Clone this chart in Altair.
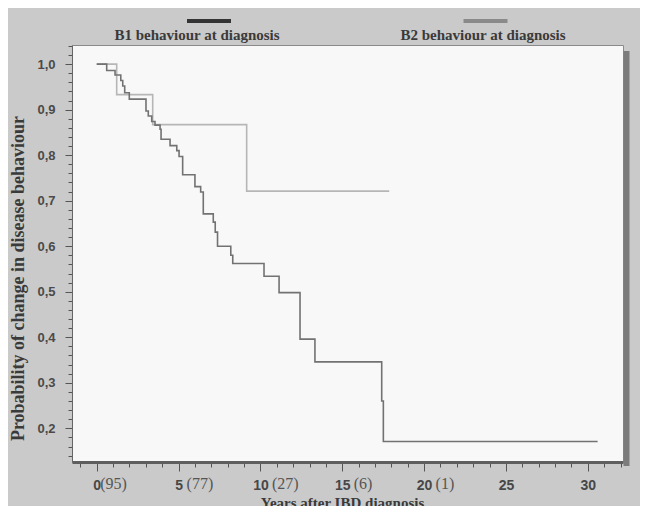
import altair as alt
import pandas as pd

# ---- data ----
series_names = ["B1 behaviour at diagnosis", "B2 behaviour at diagnosis"]

b1_years = [0, 0.61, 1.12, 1.47, 1.59, 1.71, 1.99, 3.01, 3.15, 3.36, 3.56, 3.87, 3.93,
            4.48, 4.89, 5.03, 5.25, 6.0, 6.35, 6.51, 7.12, 7.24, 7.38, 8.19, 8.31,
            10.22, 11.14, 12.42, 13.33, 17.41, 17.51, 30.6]
b1_prob = [1.0, 0.986, 0.976, 0.964, 0.952, 0.937, 0.923, 0.897, 0.886, 0.874, 0.866, 0.857, 0.835,
           0.821, 0.81, 0.797, 0.757, 0.731, 0.719, 0.671, 0.653, 0.631, 0.6, 0.58, 0.562,
           0.534, 0.498, 0.396, 0.346, 0.26, 0.171, 0.171]

b2_years = [0, 1.22, 3.42, 9.16, 17.87]
b2_prob = [1.0, 0.933, 0.867, 0.721, 0.721]

risk_years = [0, 5, 10, 15, 20]
risk_counts = ["(95)", "(77)", "(27)", "(6)", "(1)"]

x_tick_values = list(range(-1, 33))
y_tick_values = [round(0.14 + 0.02 * i, 2) for i in range(46)]

# ---- styles / layout ----
line_colors = ["#727272", "#b6b6b6"]
swatch_colors = ["#343434", "#8a8a8a"]
legend_text_centers = [125, 411]
legend_swatch_centers = [137, 413.5]
W, H = 551, 417

rows = []
for name, xs, ys in [(series_names[1], b2_years, b2_prob), (series_names[0], b1_years, b1_prob)]:
    for x, y in zip(xs, ys):
        rows.append({"series": name, "year": x, "prob": y})
curves = pd.DataFrame(rows)

xscale = alt.Scale(domain=[-1.51, 32.15], nice=False, zero=False)
yscale = alt.Scale(domain=[0.126, 1.042], nice=False, zero=False)

x_axis = alt.Axis(
    values=x_tick_values,
    labelExpr="datum.value % 5 === 0 && datum.value >= 0 && datum.value <= 30 ? datum.label : ''",
    labelFont="Liberation Sans", labelFontWeight="bold", labelFontSize=14, labelColor="#474747",
    labelOverlap=False, labelFlush=False, labelBound=False, labelPadding=7,
    tickColor="#555555",
    tickSize={"condition": {"test": "datum.value % 5 === 0", "value": 9}, "value": 5},
    domainColor="#5e5e5e", domainWidth=3, grid=False,
    title="Years after IBD diagnosis", titleFont="Liberation Serif", titleFontWeight="bold",
    titleFontSize=15, titleColor="#3a3a3a", titleX=270, titleY=45,
    titleBaseline="alphabetic", titleAlign="center",
)

y_axis = alt.Axis(
    values=y_tick_values,
    labelExpr="abs(datum.value*10 - round(datum.value*10)) < 0.001 ? replace(format(datum.value, '.1f'), '.', ',') : ''",
    labelFont="Liberation Sans", labelFontWeight="bold", labelFontSize=13, labelColor="#4a4a4a",
    labelOverlap=False, labelFlush=False, labelPadding=10,
    tickColor="#555555",
    tickSize={"condition": {"test": "abs(datum.value*10 - round(datum.value*10)) < 0.001", "value": 7}, "value": 4},
    domainColor="#666666", domainWidth=1, grid=False,
    title="Probability of change in disease behaviour", titleFont="Liberation Serif",
    titleFontWeight="bold", titleFontSize=18, titleColor="#3a3a3a",
    titleX=-48.5, titleY=233, titleBaseline="alphabetic", titleAlign="center", titleAngle=270,
)

lines = alt.Chart(curves).mark_line(interpolate="step-after", strokeWidth=1.6).encode(
    x=alt.X("year:Q", scale=xscale, axis=x_axis),
    y=alt.Y("prob:Q", scale=yscale, axis=y_axis),
    color=alt.Color("series:N", scale=alt.Scale(domain=series_names, range=line_colors), legend=None),
    detail="series:N",
    order="year:Q",
)

risk_df = pd.DataFrame({"year": risk_years, "count": risk_counts})
risk_base = alt.Chart(risk_df).encode(
    x=alt.X("year:Q", scale=xscale, axis=x_axis),
    y=alt.value(H + 27),
    text="count:N",
)
risk_style = dict(align="left", baseline="alphabetic", font="Liberation Serif", fontSize=16, color="#555555")
risk_layers = [
    risk_base.transform_filter("datum.year === 0").mark_text(dx=3.5, **risk_style),
    risk_base.transform_filter("datum.year > 0 && datum.year < 10").mark_text(dx=8, **risk_style),
    risk_base.transform_filter("datum.year >= 10").mark_text(dx=11.5, **risk_style),
]

shadow = alt.Chart(pd.DataFrame({"a": [0]})).mark_rule(color="#7c7c7c", strokeWidth=6).encode(
    x=alt.value(W + 3.5), y=alt.value(6), y2=alt.value(H + 4)
)

legend_layers = []
for i, name in enumerate(series_names):
    d = pd.DataFrame({"series": [name]})
    sc = legend_swatch_centers[i]
    tc = legend_text_centers[i]
    sw = alt.Chart(d).mark_rule(color=swatch_colors[i], strokeWidth=4).encode(
        x=alt.value(sc - 22), x2=alt.value(sc + 22), y=alt.value(-24)
    )
    tx = alt.Chart(d).mark_text(
        align="center", baseline="alphabetic", font="Liberation Serif", fontWeight="bold",
        fontSize=15, color="#3a3a3a"
    ).encode(x=alt.value(tc), y=alt.value(-5.5), text="series:N")
    legend_layers += [sw, tx]

chart = alt.layer(lines, *risk_layers, shadow, *legend_layers).properties(
    width=W, height=H,
    padding={"left": 64, "top": 37, "right": 17, "bottom": 44},
    autosize=alt.AutoSizeParams(type="none"),
).configure(
    background="#cacaca"
).configure_view(
    fill="#f8f8f8", stroke="#8a8a8a", strokeWidth=1
)

chart.save("out.html", embed_options={"renderer": "svg", "actions": False})
